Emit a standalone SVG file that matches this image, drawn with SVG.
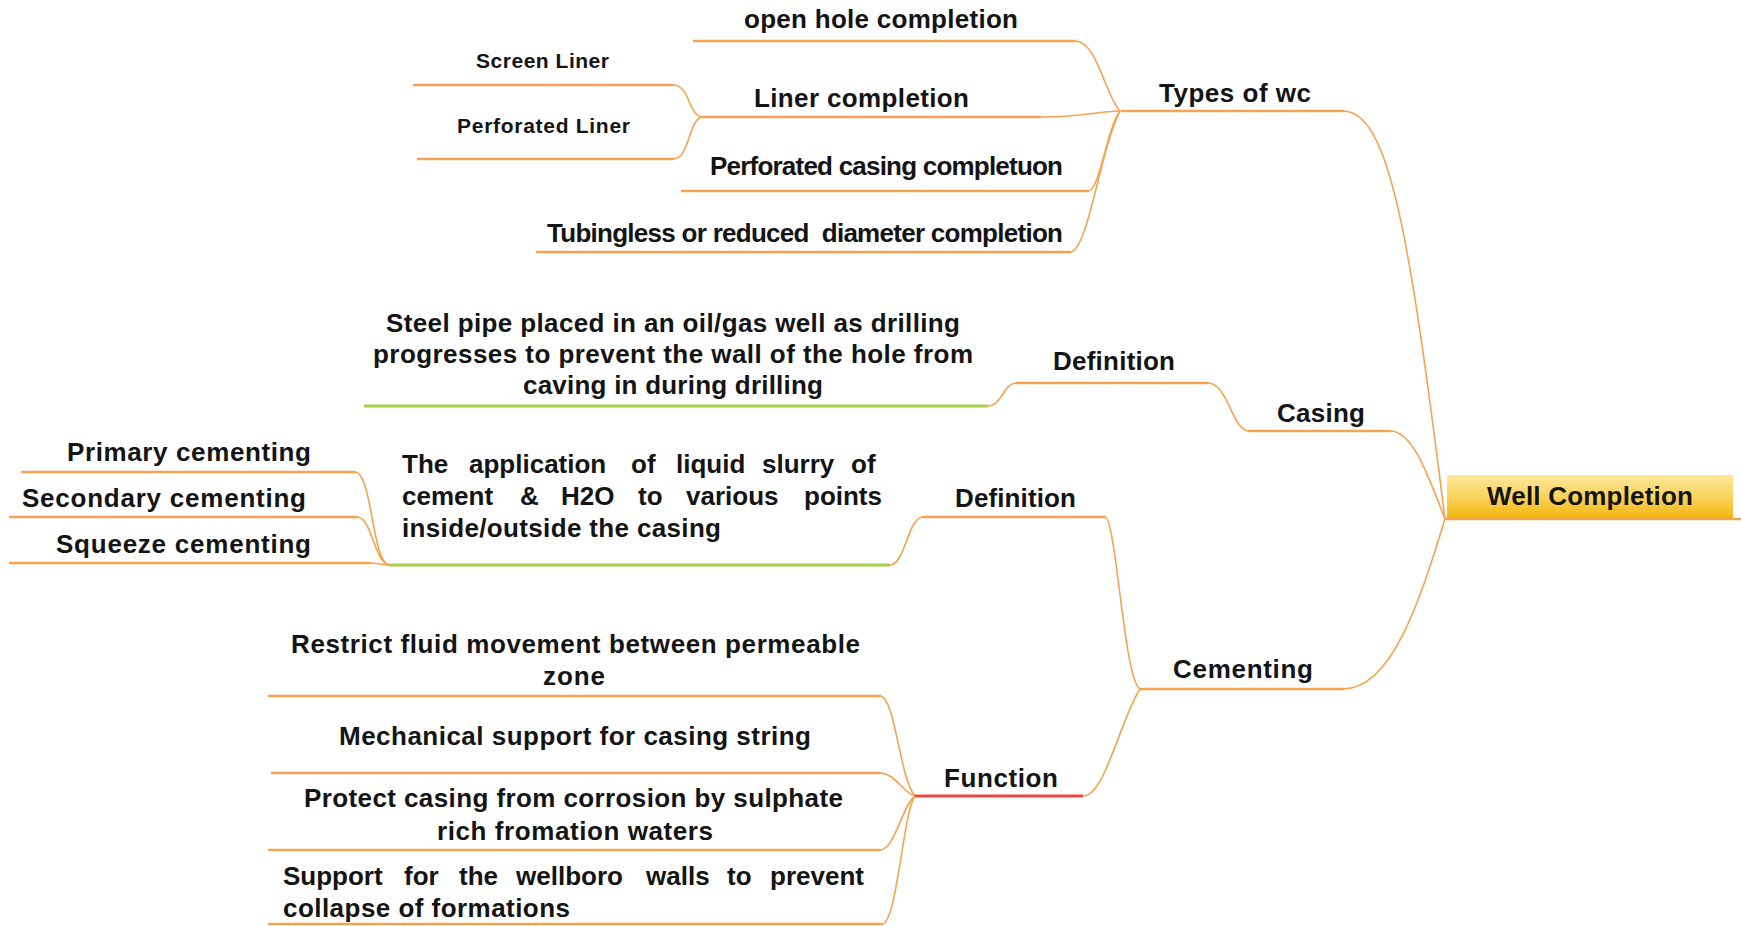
<svg xmlns="http://www.w3.org/2000/svg" width="1741" height="926" viewBox="0 0 1741 926">
  <defs>
    <linearGradient id="rootFill" x1="0" y1="0" x2="0" y2="1">
      <stop offset="0" stop-color="#FEE79C"/>
      <stop offset="0.5" stop-color="#FAD45E"/>
      <stop offset="1" stop-color="#F3B60C"/>
    </linearGradient>
  </defs>
  <style>
    text { font-family: "Liberation Sans", Arial, sans-serif; font-weight: bold; fill: #141414; }
    .t26 { font-size: 26px; }
    .t25 { font-size: 26px; }
    .t19 { font-size: 21px; }
    .bar { stroke: #F6A24F; stroke-width: 2.4; fill: none; stroke-linecap: round; }
    .green { stroke: #A6CF48; stroke-width: 3; fill: none; }
    .red { stroke: #E9483F; stroke-width: 3; fill: none; }
    .link { stroke: #F7A24E; stroke-width: 1.6; fill: none; }
  </style>
  <rect width="1741" height="926" fill="#ffffff"/>

  <!-- connectors between branches -->
  <g id="connectors">
    <path class="link" d="M1343,111 C1390,111 1410,240 1445,519"/>
    <path class="link" d="M1390,431 C1412,431 1426,470 1445,519"/>
    <path class="link" d="M1343,689 C1392,689 1420,600 1445,519"/>
    <path class="link" d="M1075,41 C1097,41 1105,95 1120,111"/>
    <path class="link" d="M1040,117 C1080,117 1095,112 1120,111"/>
    <path class="link" d="M1088,191 C1100,191 1106,130 1120,111"/>
    <path class="link" d="M1070,252 C1088,252 1100,150 1120,111"/>
    <path class="link" d="M673,85 C690,85 688,115 702,117"/>
    <path class="link" d="M673,159 C690,159 688,120 702,117"/>
    <path class="link" d="M1208,383 C1228,383 1232,431 1249,431"/>
    <path class="link" d="M988,406 C1002,406 1003,383 1017,383"/>
    <path class="link" d="M1105,517 C1116,517 1124,680 1140,689"/>
    <path class="link" d="M890,565 C905,565 908,517 923,517"/>
    <path class="link" d="M355,472 C372,472 372,562 389,565"/>
    <path class="link" d="M357,517 C372,517 374,562 389,565"/>
    <path class="link" d="M370,563 C378,563 382,565 389,565"/>
    <path class="link" d="M1083,796 C1105,796 1120,720 1140,689"/>
    <path class="link" d="M880,696 C895,696 900,780 915,796"/>
    <path class="link" d="M880,773 C895,773 902,792 915,796"/>
    <path class="link" d="M880,850 C895,850 902,805 915,796"/>
    <path class="link" d="M882,924 C897,924 903,812 915,796"/>
  </g>

  <!-- central topic -->
  <g id="well-completion">
    <rect x="1447" y="475" width="286" height="43" fill="url(#rootFill)"/>
    <line class="bar" x1="1445" y1="519" x2="1741" y2="519"/>
    <text class="t26" x="1487" y="505" textLength="206" lengthAdjust="spacing">Well Completion</text>
  </g>

  <!-- types of well completion -->
  <g id="types-of-wc">
    <line class="bar" x1="1122" y1="111" x2="1343" y2="111"/>
    <text class="t26" x="1159" y="102" textLength="152" lengthAdjust="spacing">Types of wc</text>
  </g>
  <g id="open-hole">
    <line class="bar" x1="694" y1="41" x2="1075" y2="41"/>
    <text class="t25" x="744" y="28" textLength="274" lengthAdjust="spacing">open hole completion</text>
  </g>
  <g id="liner-completion">
    <line class="bar" x1="702" y1="117" x2="1040" y2="117"/>
    <text class="t25" x="754" y="107" textLength="215" lengthAdjust="spacing">Liner completion</text>
  </g>
  <g id="screen-liner">
    <line class="bar" x1="414" y1="85" x2="673" y2="85"/>
    <text class="t19" x="476" y="68" textLength="133" lengthAdjust="spacing">Screen Liner</text>
  </g>
  <g id="perforated-liner">
    <line class="bar" x1="418" y1="159" x2="673" y2="159"/>
    <text class="t19" x="457" y="133" textLength="173" lengthAdjust="spacing">Perforated Liner</text>
  </g>
  <g id="perforated-casing">
    <line class="bar" x1="682" y1="191" x2="1088" y2="191"/>
    <text class="t25" x="710" y="175" textLength="353" lengthAdjust="spacing">Perforated casing completuon</text>
  </g>
  <g id="tubingless">
    <line class="bar" x1="537" y1="252" x2="1070" y2="252"/>
    <text class="t25" x="547" y="242" textLength="516" lengthAdjust="spacing" xml:space="preserve">Tubingless or reduced  diameter completion</text>
  </g>

  <!-- casing -->
  <g id="casing">
    <line class="bar" x1="1249" y1="431" x2="1390" y2="431"/>
    <text class="t26" x="1277" y="422" textLength="88" lengthAdjust="spacing">Casing</text>
  </g>
  <g id="casing-definition">
    <line class="bar" x1="1017" y1="383" x2="1208" y2="383"/>
    <text class="t26" x="1053" y="370" textLength="122" lengthAdjust="spacing">Definition</text>
  </g>
  <g id="casing-definition-text">
    <line class="green" x1="364" y1="406" x2="988" y2="406"/>
    <text class="t25" x="386" y="332" textLength="574" lengthAdjust="spacing">Steel pipe placed in an oil/gas well as drilling</text>
    <text class="t25" x="373" y="363" textLength="600" lengthAdjust="spacing">progresses to prevent the wall of the hole from</text>
    <text class="t25" x="523" y="394" textLength="300" lengthAdjust="spacing">caving in during drilling</text>
  </g>

  <!-- cementing -->
  <g id="cementing">
    <line class="bar" x1="1140" y1="689" x2="1343" y2="689"/>
    <text class="t26" x="1173" y="678" textLength="140" lengthAdjust="spacing">Cementing</text>
  </g>
  <g id="cementing-definition">
    <line class="bar" x1="923" y1="517" x2="1105" y2="517"/>
    <text class="t26" x="955" y="507" textLength="121" lengthAdjust="spacing">Definition</text>
  </g>
  <g id="cementing-definition-text">
    <line class="green" x1="389" y1="565" x2="890" y2="565"/>
    <text class="t25" y="473"><tspan x="402">The</tspan><tspan x="469">application</tspan><tspan x="631">of</tspan><tspan x="676">liquid</tspan><tspan x="762">slurry</tspan><tspan x="851">of</tspan></text>
    <text class="t25" y="505"><tspan x="402">cement</tspan><tspan x="520">&amp;</tspan><tspan x="561">H2O</tspan><tspan x="638">to</tspan><tspan x="686">various</tspan><tspan x="804">points</tspan></text>
    <text class="t25" x="402" y="537" textLength="319" lengthAdjust="spacing">inside/outside the casing</text>
  </g>
  <g id="primary-cementing">
    <line class="bar" x1="22" y1="472" x2="355" y2="472"/>
    <text class="t25" x="67" y="461" textLength="244" lengthAdjust="spacing">Primary cementing</text>
  </g>
  <g id="secondary-cementing">
    <line class="bar" x1="10" y1="517" x2="357" y2="517"/>
    <text class="t25" x="22" y="507" textLength="284" lengthAdjust="spacing">Secondary cementing</text>
  </g>
  <g id="squeeze-cementing">
    <line class="bar" x1="10" y1="563" x2="370" y2="563"/>
    <text class="t25" x="56" y="553" textLength="255" lengthAdjust="spacing">Squeeze cementing</text>
  </g>

  <!-- cementing functions -->
  <g id="function">
    <line class="red" x1="915" y1="796" x2="1083" y2="796"/>
    <text class="t26" x="944" y="787" textLength="114" lengthAdjust="spacing">Function</text>
  </g>
  <g id="restrict-fluid">
    <line class="bar" x1="269" y1="696" x2="880" y2="696"/>
    <text class="t25" x="291" y="653" textLength="569" lengthAdjust="spacing">Restrict fluid movement between permeable</text>
    <text class="t25" x="543" y="685" textLength="62" lengthAdjust="spacing">zone</text>
  </g>
  <g id="mechanical-support">
    <line class="bar" x1="272" y1="773" x2="880" y2="773"/>
    <text class="t25" x="339" y="745" textLength="472" lengthAdjust="spacing">Mechanical support for casing string</text>
  </g>
  <g id="protect-casing">
    <line class="bar" x1="269" y1="850" x2="880" y2="850"/>
    <text class="t25" x="304" y="807" textLength="539" lengthAdjust="spacing">Protect casing from corrosion by sulphate</text>
    <text class="t25" x="437" y="840" textLength="276" lengthAdjust="spacing">rich fromation waters</text>
  </g>
  <g id="support-wellbore">
    <line class="bar" x1="269" y1="924" x2="882" y2="924"/>
    <text class="t25" y="885"><tspan x="283">Support</tspan><tspan x="404">for</tspan><tspan x="459">the</tspan><tspan x="516">wellboro</tspan><tspan x="646">walls</tspan><tspan x="727">to</tspan><tspan x="770">prevent</tspan></text>
    <text class="t25" x="283" y="917" textLength="287" lengthAdjust="spacing">collapse of formations</text>
  </g>
</svg>
